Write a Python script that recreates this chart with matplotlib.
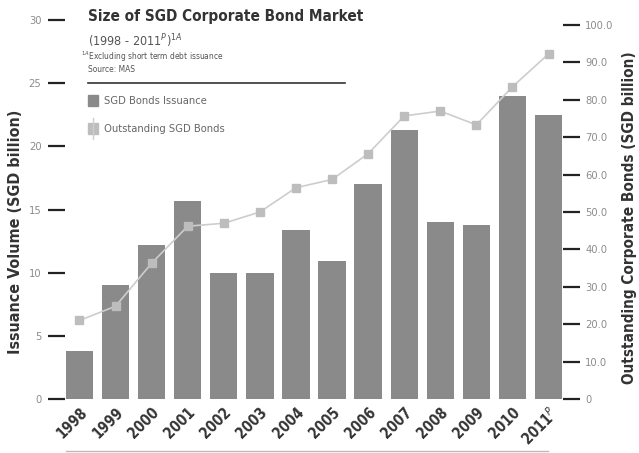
import numpy as np
import matplotlib.pyplot as plt
from matplotlib.lines import Line2D

years = ["1998", "1999", "2000", "2001", "2002", "2003", "2004",
         "2005", "2006", "2007", "2008", "2009", "2010", "2011$^{P}$"]
issuance = [3.8, 9.0, 12.2, 15.7, 10.0, 10.0, 13.4, 10.9, 17.0, 21.3,
            14.0, 13.8, 24.0, 22.5]
outstanding = [21.0, 24.8, 36.3, 46.2, 47.0, 50.0, 56.5, 58.7, 65.6, 75.7,
               77.0, 73.3, 83.5, 92.3]
left_ticks = [0, 5, 10, 15, 20, 25, 30]
right_ticks = [0, 10, 20, 30, 40, 50, 60, 70, 80, 90, 100]
right_labels = ["0"] + [f"{v:.1f}" for v in right_ticks[1:]]

plt.rcParams["font.family"] = ["DejaVu Sans"]
plt.rcParams["font.stretch"] = "condensed"
plt.rcParams["mathtext.fontset"] = "dejavusans"

bar_c = "#8a8a8a"
line_c = "#cdcdcd"
mark_c = "#bdbdbd"
txt_c = "#8c8c8c"

fig = plt.figure(figsize=(6.39, 4.53), dpi=100)
ax = fig.add_axes([65 / 639, 54 / 453, 498 / 639, 379 / 453])
x = np.arange(len(years))

ax.bar(x, issuance, width=0.76, color=bar_c, zorder=2)
ax.set_xlim(-0.4, len(years) - 0.6)
ax.set_ylim(0, 30)
ax.set_yticks(left_ticks)
ax.set_yticklabels([str(t) for t in left_ticks], color=txt_c, fontsize=8)
ax.tick_params(axis="y", direction="out", length=12, width=1.6,
               color="#222222", pad=5)
ax.set_xticks(x)
ax.set_xticklabels(years, rotation=45, ha="right", rotation_mode="anchor",
                   fontsize=10.5, fontweight="bold", color="#333333")
ax.tick_params(axis="x", length=0, pad=4)
for s in ax.spines.values():
    s.set_visible(False)
ax.set_ylabel("Issuance Volume (SGD billion)", fontsize=11.5,
              fontweight="bold", color="#333333")
ax.yaxis.set_label_coords(-0.084, 0.44)

ax2 = ax.twinx()
ax2.plot(x, outstanding, color=line_c, lw=1.2, marker="s", ms=6,
         mfc=mark_c, mec=mark_c, zorder=3)
ax2.set_ylim(0, 100 * 30 / 29.6)
ax2.set_yticks(right_ticks)
ax2.set_yticklabels(right_labels, color=txt_c, fontsize=8)
ax2.tick_params(axis="y", direction="out", length=12, width=1.6,
                color="#222222", pad=4)
for s in ax2.spines.values():
    s.set_visible(False)
ax2.set_ylabel("Outstanding Corporate Bonds (SGD billion)", fontsize=11,
               fontweight="bold", color="#333333")
ax2.yaxis.set_label_coords(1.118, 0.478)

# title block and legend in the upper-left of the plot
fig.text(88 / 639, 1 - 16 / 453, "Size of SGD Corporate Bond Market",
         fontsize=11, fontweight="bold", color="#333333", va="center")
fig.text(88 / 639, 1 - 41 / 453, "(1998 - 2011$^{P}$)$^{1A}$",
         fontsize=9, color="#555555", va="center")
fig.text(81 / 639, 1 - 57 / 453, "$^{1A}$Excluding short term debt issuance",
         fontsize=6, color="#555555", va="center")
fig.text(88 / 639, 1 - 69 / 453, "Source: MAS",
         fontsize=6, color="#555555", va="center")
fig.add_artist(Line2D([88 / 639, 345 / 639], [1 - 83 / 453, 1 - 83 / 453],
                      color="#333333", lw=1.2))
fig.add_artist(plt.Rectangle((88 / 639, 1 - 106 / 453), 10 / 639, 11 / 453,
                             color=bar_c))
fig.text(104 / 639, 1 - 101 / 453, "SGD Bonds Issuance",
         fontsize=8, color="#666666", va="center")
fig.add_artist(Line2D([93 / 639, 93 / 639], [1 - 139 / 453, 1 - 118 / 453],
                      color=line_c, lw=1))
fig.add_artist(plt.Rectangle((88 / 639, 1 - 134 / 453), 10 / 639, 11 / 453,
                             color=mark_c))
fig.text(104 / 639, 1 - 129 / 453, "Outstanding SGD Bonds",
         fontsize=8, color="#666666", va="center")

# rule under the year labels
fig.add_artist(Line2D([66 / 639, 548 / 639], [1 - 451 / 453, 1 - 451 / 453],
                      color="#bbbbbb", lw=1))

fig.savefig("out.png", dpi=100)
